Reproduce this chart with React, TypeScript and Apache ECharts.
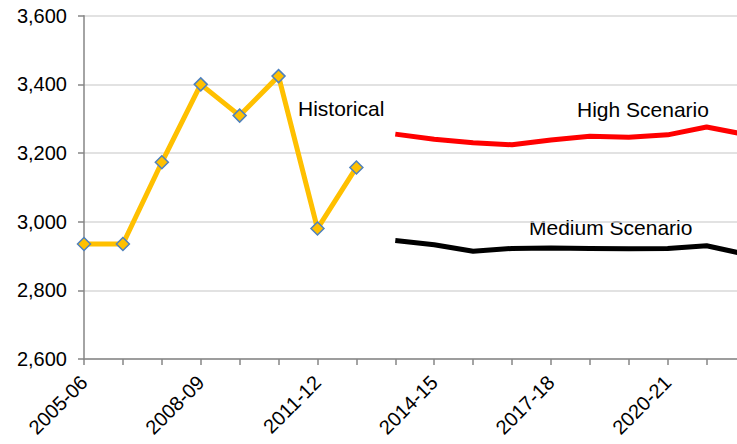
import React, { useEffect, useRef } from "react";
import * as echarts from "echarts";

const categories = [
  "2005-06", "2006-07", "2007-08", "2008-09", "2009-10", "2010-11",
  "2011-12", "2012-13", "2013-14", "2014-15", "2015-16", "2016-17",
  "2017-18", "2018-19", "2019-20", "2020-21", "2021-22", "2022-23",
];
const historical = [2935, 2935, 3173, 3400, 3309, 3424, 2980, 3158];
const highScenario = [3255, 3240, 3230, 3224, 3238, 3249, 3246, 3253, 3276, 3254];
const mediumScenario = [2945, 2933, 2914, 2922, 2923, 2922, 2921, 2922, 2930, 2905];
const scenarioStart = 8;
const yTicks = { min: 2600, max: 3600, interval: 200 };

const pad = (arr: number[], start: number) =>
  categories.map((_, i) => (i >= start && i - start < arr.length ? arr[i - start] : null));

const FONT = "'Liberation Sans', Arial, sans-serif";

export default function App() {
  const ref = useRef<HTMLDivElement>(null);
  useEffect(() => {
    if (!ref.current) return;
    const chart = echarts.init(ref.current, null, { renderer: "svg" });
    chart.setOption({
      animation: false,
      textStyle: { fontFamily: FONT },
      grid: { left: 84, top: 15.7, bottom: 85, right: 14.5 },
      xAxis: {
        type: "category",
        data: categories,
        boundaryGap: false,
        axisLine: { lineStyle: { color: "#868686", width: 1.5 } },
        axisTick: { interval: 0, length: 6, lineStyle: { color: "#868686", width: 1.5 } },
        axisLabel: {
          interval: 2,
          rotate: 45,
          color: "#000",
          fontSize: 20,
          fontFamily: FONT,
          margin: 20,
        },
        splitLine: { show: false },
      },
      yAxis: {
        type: "value",
        min: yTicks.min,
        max: yTicks.max,
        interval: yTicks.interval,
        axisLine: { show: true, lineStyle: { color: "#868686", width: 1.5 } },
        axisTick: { show: true, length: 6, lineStyle: { color: "#868686", width: 1.5 } },
        axisLabel: {
          color: "#000",
          fontSize: 20,
          fontFamily: FONT,
          margin: 17,
          formatter: (v: number) => v.toLocaleString("en-US"),
        },
        splitLine: { lineStyle: { color: "#d9d9d9", width: 1.5 } },
      },
      series: [
        {
          name: "Historical",
          type: "line",
          data: pad(historical, 0),
          symbol: "diamond",
          symbolSize: 13,
          lineStyle: { color: "#FFC000", width: 5 },
          itemStyle: { color: "#FFC000", borderColor: "#4F81BD", borderWidth: 1.5 },
          z: 3,
        },
        {
          name: "High Scenario",
          type: "line",
          data: pad(highScenario, scenarioStart),
          showSymbol: false,
          symbol: "none",
          lineStyle: { color: "#FF0000", width: 5 },
          itemStyle: { color: "#FF0000" },
        },
        {
          name: "Medium Scenario",
          type: "line",
          data: pad(mediumScenario, scenarioStart),
          showSymbol: false,
          symbol: "none",
          lineStyle: { color: "#000000", width: 5 },
          itemStyle: { color: "#000000" },
        },
      ],
      graphic: [
        {
          type: "text",
          left: 298,
          top: 98,
          style: { text: "Historical", fontSize: 21, fontFamily: FONT, fill: "#000" },
        },
        {
          type: "text",
          left: 577,
          top: 99,
          style: { text: "High Scenario", fontSize: 21, fontFamily: FONT, fill: "#000" },
        },
        {
          type: "text",
          left: 529,
          top: 217,
          style: { text: "Medium Scenario", fontSize: 21, fontFamily: FONT, fill: "#000" },
        },
      ],
    });
    return () => chart.dispose();
  }, []);
  return (
    <div style={{ position: "fixed", left: 0, top: 0, width: 737, height: 444, overflow: "hidden", background: "#fff" }}>
      <div ref={ref} style={{ width: 760, height: 444 }} />
    </div>
  );
}
